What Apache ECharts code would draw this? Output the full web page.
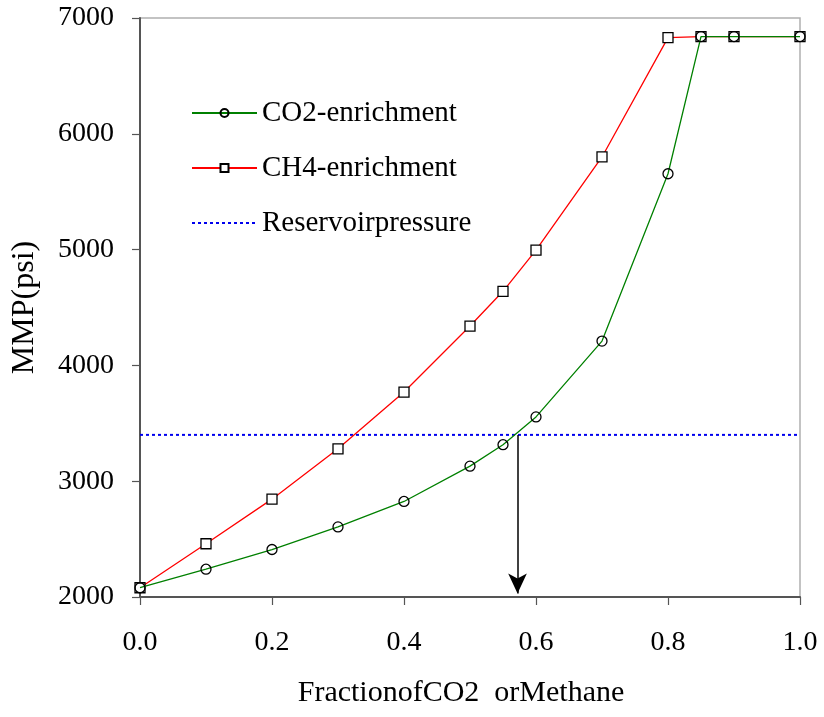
<!DOCTYPE html>
<html>
<head>
<meta charset="utf-8">
<script src="https://cdn.jsdelivr.net/npm/echarts@6/dist/echarts.min.js"></script>
<style>
  html, body { margin: 0; padding: 0; background: #fff; }
  #chart { width: 824px; height: 717px; }
</style>
</head>
<body>
<div id="chart"></div>
<script>
// fraction of CO2 or methane in the injected gas
const fractions = [0, 0.1, 0.2, 0.3, 0.4, 0.5, 0.55, 0.6, 0.7, 0.8, 0.85, 0.9, 1.0];
const co2Mmp = [2080, 2240, 2410, 2605, 2825, 3130, 3315, 3555, 4210, 5655, 6840, 6840, 6840];
const ch4Mmp = [2080, 2460, 2845, 3280, 3770, 4340, 4640, 4995, 5800, 6830, 6840, 6840, 6840];
const reservoirPressure = 3400;
const arrowX = 0.572;
const arrowBottom = 2030;
const xTicks = [0, 0.2, 0.4, 0.6, 0.8, 1.0];
const yTicks = [2000, 3000, 4000, 5000, 6000, 7000];

const font = 'Liberation Serif, Times New Roman, serif';
const pair = (xs, ys) => xs.map((x, i) => [x, ys[i]]);

const chart = echarts.init(document.getElementById('chart'));

const option = {
    backgroundColor: '#fff',
    animation: false,
    textStyle: { fontFamily: font, color: '#000' },
    grid: {
        left: 140, right: 24, top: 18, bottom: 120,
        show: true, borderColor: '#b0b0b0', borderWidth: 1.5
    },
    legend: {
        orient: 'vertical',
        left: 186, top: 93,
        itemWidth: 65, itemHeight: 10, itemGap: 25,
        textStyle: { fontFamily: font, fontSize: 29, color: '#000', lineHeight: 30 },
        data: [
            'CO2-enrichment',
            'CH4-enrichment',
            { name: 'Reservoirpressure', itemStyle: { opacity: 0 } }
        ]
    },
    xAxis: {
        type: 'value',
        min: xTicks[0], max: xTicks[xTicks.length - 1], interval: 0.2,
        name: 'FractionofCO2  orMethane',
        nameLocation: 'middle', nameGap: 81,
        nameTextStyle: { fontFamily: font, fontSize: 30, color: '#000', padding: [0, 18, 0, 0] },
        axisLine: { show: true, lineStyle: { color: '#555', width: 2 } },
        axisTick: { show: true, inside: false, length: 8, lineStyle: { color: '#555', width: 1.2 } },
        axisLabel: { fontFamily: font, fontSize: 28, color: '#000', margin: 32,
            formatter: v => v.toFixed(1) },
        splitLine: { show: false }
    },
    yAxis: {
        type: 'value',
        min: yTicks[0], max: yTicks[yTicks.length - 1], interval: 1000,
        name: 'MMP(psi)',
        nameLocation: 'middle', nameGap: 99, nameRotate: 90,
        nameTextStyle: { fontFamily: font, fontSize: 32, color: '#000' },
        axisLine: { show: true, lineStyle: { color: '#555', width: 2 } },
        axisTick: { show: true, inside: false, length: 8, lineStyle: { color: '#555', width: 1.2 } },
        axisLabel: { fontFamily: font, fontSize: 28, color: '#000', margin: 26,
            formatter: v => String(v) },
        splitLine: { show: false }
    },
    series: [
        {
            name: 'Reservoirpressure',
            type: 'line',
            data: [[xTicks[0], reservoirPressure], [xTicks[xTicks.length - 1], reservoirPressure]],
            symbol: 'none',
            lineStyle: { color: '#0000ee', width: 2, type: [3, 3] },
            itemStyle: { color: '#0000ee' },
            z: 1,
            markLine: {
                silent: true,
                symbol: ['none', 'arrow'],
                symbolSize: [14, 20],
                lineStyle: { color: '#000', width: 1.5, type: 'solid' },
                label: { show: false },
                data: [[
                    { coord: [arrowX, reservoirPressure] },
                    { coord: [arrowX, arrowBottom] }
                ]]
            }
        },
        {
            name: 'CH4-enrichment',
            type: 'line',
            data: pair(fractions, ch4Mmp),
            symbol: 'rect',
            symbolSize: 10,
            lineStyle: { color: '#ff0000', width: 1.3 },
            itemStyle: { color: '#fff', borderColor: '#000', borderWidth: 1.3 },
            z: 3
        },
        {
            name: 'CO2-enrichment',
            type: 'line',
            data: pair(fractions, co2Mmp),
            symbol: 'circle',
            symbolSize: 10,
            lineStyle: { color: '#008000', width: 1.3 },
            itemStyle: { color: 'rgba(255,255,255,0)', borderColor: '#000', borderWidth: 1.3 },
            z: 4
        }
    ]
};

chart.setOption(option);
</script>
</body>
</html>
